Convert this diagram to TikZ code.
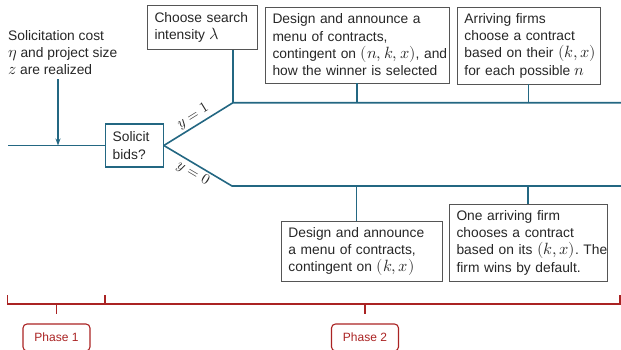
\documentclass[tikz,border=0pt]{standalone}
\usepackage{fontspec}
\usepackage{unicode-math}
\setmainfont{Liberation Sans}
\setmathfont{Latin Modern Math}[Scale=1.18]
\usetikzlibrary{arrows.meta}
\definecolor{tealc}{RGB}{35,103,130}
\definecolor{boxc}{RGB}{85,85,85}
\definecolor{redc}{RGB}{170,35,35}
\definecolor{textc}{RGB}{38,38,38}
\begin{document}
\frenchspacing
\begin{tikzpicture}[x=1pt,y=-1pt,
  txt/.style={font=\fontsize{13.8}{17.3}\selectfont, text=textc},
  gbox/.style={txt, draw=boxc, line width=0.9pt, align=left, inner xsep=7.5pt, inner ysep=0pt, anchor=center},
  tline/.style={draw=tealc, line width=1.6pt},
  rline/.style={draw=redc, line width=1.4pt},
  lbl/.style={font=\fontsize{12.5}{14}\selectfont, text=textc, inner sep=2pt},
  pbox/.style={draw=redc, line width=1.1pt, rounded corners=4pt, text=redc, font=\fontsize{12}{14}\selectfont, minimum width=67pt, minimum height=27pt, inner sep=0pt}]
\useasboundingbox (0,0) rectangle (621,349);
\hyphenpenalty=10000
% left text
\node[txt, anchor=west, align=left, inner sep=0pt] (cond) at (8,52.7) {Solicitation cost\\ $\eta$ and project size\\ $z$ are realized};
% boxes
\node[gbox, minimum width=110pt, minimum height=44pt, text width=95pt] (choose) at (202,27.5) {Choose search\\ \mbox{intensity $\lambda$}};
\node[gbox, minimum width=184pt, minimum height=76pt, text width=169pt] (design) at (357,45) {Design and announce a\\ menu of contracts,\\ \mbox{contingent on $(n,k,x)$, and}\\ \mbox{how the winner is selected}};
\node[gbox, minimum width=143.5pt, minimum height=77pt, text width=128.5pt] (arrive) at (528.7,45.5) {Arriving firms\\ choose a contract\\ \mbox{based on their $(k,x)$}\\ \mbox{for each possible $n$}};
\node[gbox, draw=tealc, line width=1.1pt, inner xsep=7pt, minimum width=57.6pt, minimum height=43pt, text width=43.6pt] (solicit) at (134.5,145.5) {Solicit\\ bids?};
\node[gbox, minimum width=161.7pt, minimum height=60pt, text width=146.7pt] (ldesign) at (361.8,251.7) {\mbox{Design and announce}\\ \mbox{a menu of contracts,}\\ \mbox{contingent on $(k,x)$}};
\node[gbox, minimum width=158pt, minimum height=77pt, text width=143pt] (larrive) at (528,242.5) {One arriving firm\\ chooses a contract\\ \mbox{based on its $(k,x)$. The}\\ \mbox{firm wins by default.}};
% coordinates
\coordinate (start) at (8,145.5);
\coordinate (arrtop) at (58,79);
\coordinate (arrbot) at (58,145.5);
\coordinate (up) at (233,102.7);
\coordinate (upend) at (621,102.7);
\coordinate (low) at (232,186);
\coordinate (lowend) at (621,186);
\coordinate (ltap) at (356.7,186);
% teal lines
\draw[tline] (start) -- (solicit.west);
\draw[tline, line width=1.4pt, -{Stealth[length=7pt,width=5pt]}] (arrtop) -- (arrbot);
\draw[tline] (solicit.east) -- node[lbl, sloped, above]{$y=1$} (up) -- (upend);
\draw[tline] (solicit.east) -- node[lbl, sloped, below]{$y=0$} (low) -- (lowend);
\draw[tline, line width=1.3pt] (up |- choose.south) -- (up);
\draw[tline, line width=1.3pt] (design.south) -- (design.south |- up);
\draw[tline, line width=1.3pt] (arrive.south) -- (arrive.south |- up);
\draw[tline, line width=1.3pt] (ltap) -- (ltap |- ldesign.north);
\draw[tline, line width=1.3pt] (larrive.north |- low) -- (larrive.north);
% phase bracket
\coordinate (bl) at (7.5,295);
\coordinate (br) at (620,295);
\coordinate (bm) at (105,295);
\node[pbox] (p1) at (56.5,337.5) {Phase 1};
\node[pbox] (p2) at (365,337.5) {Phase 2};
\draw[rline] (bl) -- (7.5,304) -- (620,304) -- (br);
\draw[rline] (bm) -- (105,304);
\draw[rline] (p1.north |- 0,304) -- (56.5,314);
\draw[rline] (p2.north |- 0,304) -- (365,314);
\end{tikzpicture}
\end{document}
